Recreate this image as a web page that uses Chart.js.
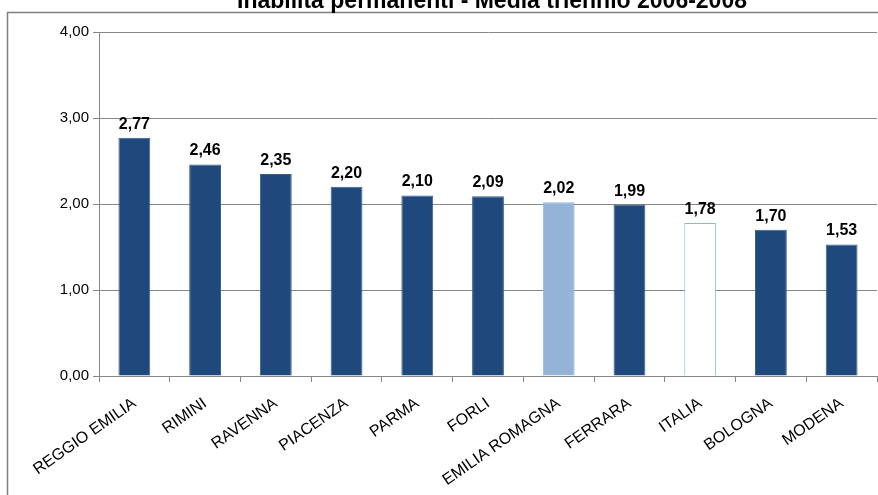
<!DOCTYPE html>
<html>
<head>
<meta charset="utf-8">
<script src="https://cdn.jsdelivr.net/npm/chart.js@4.4.0/dist/chart.umd.min.js"></script>
<style>
  html, body { margin: 0; padding: 0; background: #fff; }
  #wrap { width: 878px; height: 495px; position: relative; }
</style>
</head>
<body>
<div id="wrap"><canvas id="chart"></canvas></div>
<script>
// data
const categories = ['REGGIO EMILIA', 'RIMINI', 'RAVENNA', 'PIACENZA', 'PARMA', 'FORLI',
                    'EMILIA ROMAGNA', 'FERRARA', 'ITALIA', 'BOLOGNA', 'MODENA'];
const values = [2.77, 2.46, 2.35, 2.20, 2.10, 2.09, 2.02, 1.99, 1.78, 1.70, 1.53];
const yTicks = [0, 1, 2, 3, 4];
const titleText = 'Inabilità permanenti - Media triennio 2006-2008';

const dark = '#1F497D';
const light = '#95B3D7';

const fill = categories.map(c => c === 'EMILIA ROMAGNA' ? light : (c === 'ITALIA' ? '#ffffff' : dark));
const edge = categories.map(c => c === 'ITALIA' || c === 'EMILIA ROMAGNA' ? light : '#3A5F8E');

const fmt = v => v.toFixed(2).replace('.', ',');

// frame + cut-off title
const framePlugin = {
    id: 'frame',
    beforeDraw(chart) {
        const ctx = chart.ctx;
        ctx.save();
        ctx.strokeStyle = '#7f7f7f';
        ctx.lineWidth = 1.5;
        ctx.strokeRect(7.5, 12.5, 880, 500);
        ctx.fillStyle = '#000';
        ctx.font = 'bold 23px "Liberation Sans", Arial, sans-serif';
        ctx.textAlign = 'center';
        ctx.textBaseline = 'alphabetic';
        ctx.fillText(titleText, 492, 8);
        ctx.restore();
    }
};

// value labels above the bars
const labelPlugin = {
    id: 'valueLabels',
    afterDatasetsDraw(chart) {
        const ctx = chart.ctx;
        const meta = chart.getDatasetMeta(0);
        ctx.save();
        ctx.fillStyle = '#000';
        ctx.font = 'bold 16px "Liberation Sans", Arial, sans-serif';
        ctx.textAlign = 'center';
        ctx.textBaseline = 'alphabetic';
        meta.data.forEach((bar, i) => {
            ctx.fillText(fmt(values[i]), bar.x, bar.y - 9);
        });
        ctx.restore();
    }
};

new Chart(document.getElementById('chart'), {
    type: 'bar',
    data: {
        labels: categories,
        datasets: [{
            data: values,
            backgroundColor: fill,
            borderColor: edge,
            borderWidth: 1,
            categoryPercentage: 1,
            barPercentage: 0.45
        }]
    },
    options: {
        responsive: true,
        maintainAspectRatio: false,
        animation: false,
        layout: { padding: { top: 32, left: 4, right: 1, bottom: 0 } },
        plugins: {
            legend: { display: false },
            tooltip: { enabled: false },
            title: { display: false }
        },
        scales: {
            x: {
                grid: {
                    display: true,
                    drawOnChartArea: false,
                    drawTicks: true,
                    tickLength: 6,
                    color: '#868686',
                    offset: true
                },
                border: { color: '#868686' },
                ticks: {
                    color: '#000',
                    font: { family: '"Liberation Sans", Arial, sans-serif', size: 16 },
                    minRotation: 35,
                    maxRotation: 35,
                    autoSkip: false,
                    padding: 12
                },
                afterFit(s) { s.height = 119; }
            },
            y: {
                min: 0,
                max: 4,
                afterBuildTicks(s) { s.ticks = yTicks.map(v => ({ value: v })); },
                grid: {
                    color: '#868686',
                    tickLength: 6
                },
                border: { color: '#868686' },
                ticks: {
                    color: '#000',
                    font: { family: '"Liberation Sans", Arial, sans-serif', size: 15 },
                    padding: 4,
                    callback: v => fmt(v)
                },
                afterFit(s) { s.width = 95; }
            }
        }
    },
    plugins: [framePlugin, labelPlugin]
});
</script>
</body>
</html>
